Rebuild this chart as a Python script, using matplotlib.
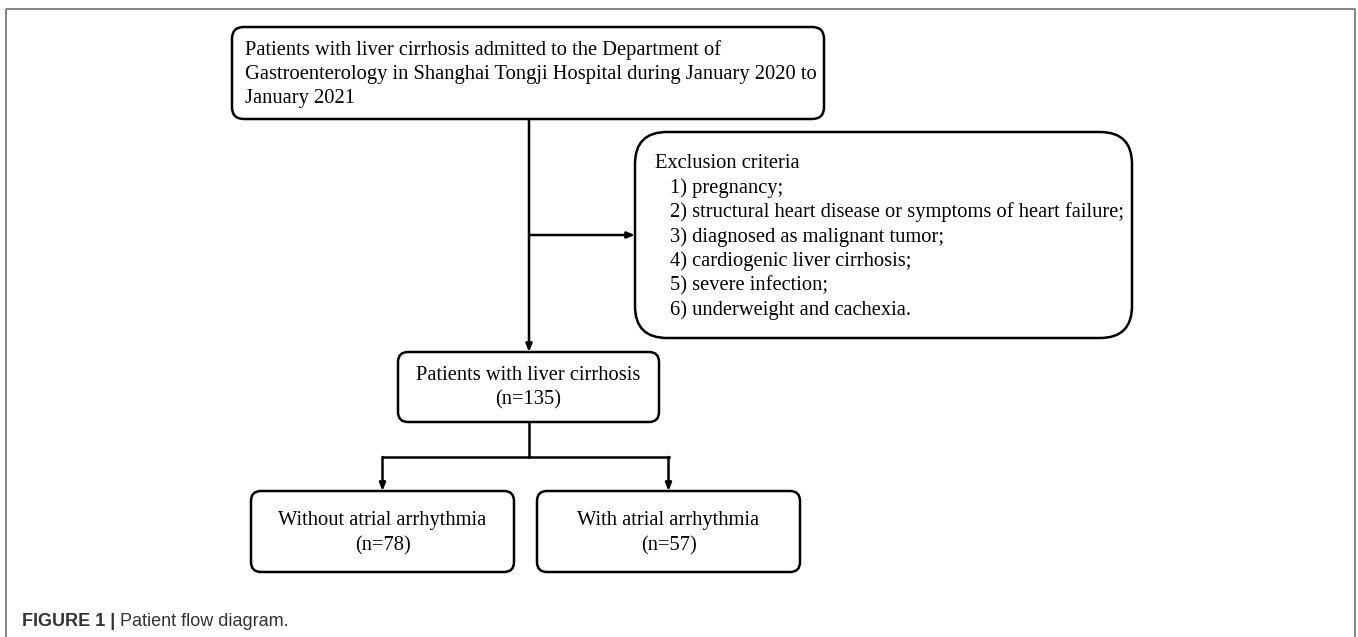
import matplotlib.pyplot as plt
from matplotlib.patches import FancyBboxPatch

# ── text content ─────────────────────────────────────────────────────────────
top_lines = [
    "Patients with liver cirrhosis admitted to the Department of",
    "Gastroenterology in Shanghai Tongji Hospital during January 2020 to",
    "January 2021",
]
excl_title = "Exclusion criteria"
excl_items = [
    "pregnancy;",
    "structural heart disease or symptoms of heart failure;",
    "diagnosed as malignant tumor;",
    "cardiogenic liver cirrhosis;",
    "severe infection;",
    "underweight and cachexia.",
]
total_label = "Patients with liver cirrhosis"
total_n = 135
group_labels = ["Without atrial arrhythmia", "With atrial arrhythmia"]
group_n = [78, 57]
caption_bold = "FIGURE 1 |"
caption_text = " Patient flow diagram."

SERIF = "Liberation Serif"
SANS = "Liberation Sans"
FS = 14.8
LW = 1.8

W, H = 1358, 637
fig = plt.figure(figsize=(W / 100, H / 100), dpi=100)
ax = fig.add_axes([0, 0, 1, 1])
ax.set_xlim(0, W)
ax.set_ylim(H, 0)
ax.axis("off")

# outer frame (open at the bottom)
ax.plot([6, 6, 1355, 1355], [H, 9, 9, H], color="#707070", lw=1.2)


def box(x0, y0, x1, y1, r):
    ax.add_patch(FancyBboxPatch((x0, y0), x1 - x0, y1 - y0,
                                boxstyle=f"round,pad=0,rounding_size={r}",
                                fc="white", ec="black", lw=LW, zorder=2))


def arrow(x0, y0, x1, y1):
    ax.annotate("", xy=(x1, y1), xytext=(x0, y0),
                arrowprops=dict(arrowstyle="-|>,head_length=0.45,head_width=0.18",
                                color="black", lw=LW, shrinkA=0, shrinkB=0),
                zorder=3)


# ── boxes ────────────────────────────────────────────────────────────────────
box(232, 27, 824, 119, 12)
for i, line in enumerate(top_lines):
    ax.text(245, 50 + i * 24.5, line, family=SERIF, fontsize=FS,
            va="center", ha="left", zorder=4)

box(635, 132, 1132, 338, 32)
ax.text(655, 163, excl_title, family=SERIF, fontsize=FS, va="center", zorder=4)
for i, item in enumerate(excl_items):
    ax.text(670, 188 + i * 24.5, f"{i + 1}) {item}", family=SERIF,
            fontsize=FS, va="center", zorder=4)

box(398, 352, 659, 422, 10)
ax.text(528.5, 376, total_label, family=SERIF, fontsize=FS,
        ha="center", va="center", zorder=4)
ax.text(528.5, 400, f"(n={total_n})", family=SERIF, fontsize=FS,
        ha="center", va="center", zorder=4)

group_x = [(251, 514), (537, 800)]
for (x0, x1), lab, n in zip(group_x, group_labels, group_n):
    box(x0, 491, x1, 572, 10)
    cx = (x0 + x1) / 2
    ax.text(cx, 520, lab, family=SERIF, fontsize=FS, ha="center",
            va="center", zorder=4)
    ax.text(cx, 546, f"(n={n})", family=SERIF, fontsize=FS, ha="center",
            va="center", zorder=4)

# ── connectors ───────────────────────────────────────────────────────────────
arrow(529, 119, 529, 352)
arrow(529, 235, 635, 235)
ax.plot([529, 529], [422, 457], color="black", lw=LW)
ax.plot([382.5, 668.5], [457, 457], color="black", lw=LW, solid_capstyle="projecting")
for (x0, x1) in group_x:
    arrow((x0 + x1) / 2, 457, (x0 + x1) / 2, 491)

# ── caption ──────────────────────────────────────────────────────────────────
t = ax.text(22, 622, caption_bold, family=SANS, fontsize=13, fontweight="bold",
            color="#333333", va="center")
fig.canvas.draw()
bb = t.get_window_extent()
ax.text(22 + bb.width, 622, caption_text, family=SANS, fontsize=13,
        color="#333333", va="center")

fig.savefig("out.png", dpi=100)
